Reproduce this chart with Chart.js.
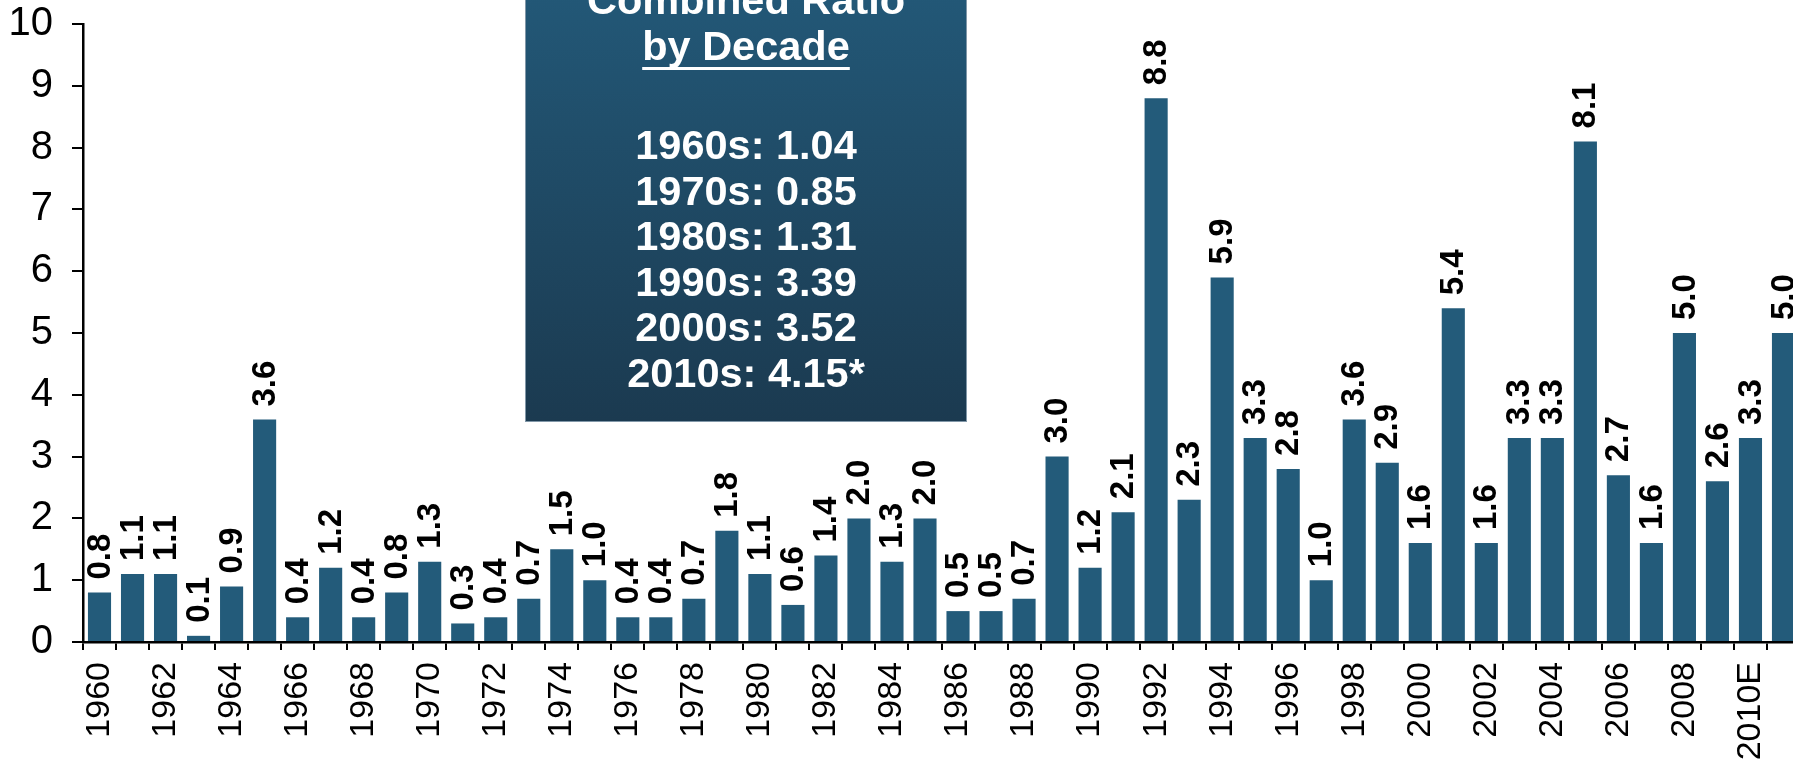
<!DOCTYPE html>
<html><head><meta charset="utf-8">
<script src="https://cdn.jsdelivr.net/npm/chart.js@4/dist/chart.umd.min.js"></script>
<style>
html,body{margin:0;padding:0;background:#fff;overflow:hidden;width:1793px;height:763px;}
#wrap{position:relative;width:1793px;height:763px;overflow:hidden;}
#c{position:absolute;left:0;top:0;}
#box{position:absolute;left:525px;top:-40px;width:442px;height:462px;box-sizing:border-box;background:linear-gradient(#235a7a,#1b3a50);border:1px solid #8197a8;}
#txt{position:absolute;left:525px;top:-23px;width:442px;color:#fff;font-family:'Liberation Sans',Arial,sans-serif;font-weight:bold;font-size:41.5px;text-align:center;}
#txt .h{line-height:46px;height:46px;white-space:nowrap;}
#txt .u{text-decoration:underline;text-decoration-thickness:3px;text-underline-offset:7px;text-decoration-skip-ink:none;}
#txt .sp{height:53px;}
#txt .l{line-height:45.5px;height:45.5px;white-space:nowrap;}
</style></head>
<body>
<div id="wrap">
<canvas id="c" width="1800" height="763" style="width:1800px;height:763px"></canvas>
<div id="box"></div>
<div id="txt"></div>
</div>
<script>
const categories = ['1960','1961','1962','1963','1964','1965','1966','1967','1968','1969',
  '1970','1971','1972','1973','1974','1975','1976','1977','1978','1979',
  '1980','1981','1982','1983','1984','1985','1986','1987','1988','1989',
  '1990','1991','1992','1993','1994','1995','1996','1997','1998','1999',
  '2000','2001','2002','2003','2004','2005','2006','2007','2008','2009',
  '2010E','2011E'];
const values = [0.8,1.1,1.1,0.1,0.9,3.6,0.4,1.2,0.4,0.8,
  1.3,0.3,0.4,0.7,1.5,1.0,0.4,0.4,0.7,1.8,
  1.1,0.6,1.4,2.0,1.3,2.0,0.5,0.5,0.7,3.0,
  1.2,2.1,8.8,2.3,5.9,3.3,2.8,1.0,3.6,2.9,
  1.6,5.4,1.6,3.3,3.3,8.1,2.7,1.6,5.0,2.6,
  3.3,5.0];
const yTicks = [0,1,2,3,4,5,6,7,8,9,10];
const boxTitle = ['Combined Ratio','by Decade'];
const decadeLabels = ['1960s','1970s','1980s','1990s','2000s','2010s'];
const decadeValues = ['1.04','0.85','1.31','3.39','3.52','4.15*'];

// text box
const txt = document.getElementById('txt');
txt.innerHTML = '<div class="h">'+boxTitle[0]+'</div><div class="h"><span class="u">'+boxTitle[1]+'</span></div><div class="sp"></div>' +
  decadeLabels.map((d,i)=>'<div class="l">'+d+': '+decadeValues[i]+'</div>').join('');

const FONT = "'Liberation Sans', Arial, sans-serif";
Chart.defaults.font.family = FONT;
Chart.defaults.color = '#000';

const valueLabels = {
  id: 'valueLabels',
  afterDatasetsDraw(chart) {
    const ctx = chart.ctx;
    const meta = chart.getDatasetMeta(0);
    ctx.save();
    ctx.font = 'bold 33px ' + FONT;
    ctx.fillStyle = '#000';
    ctx.textAlign = 'left';
    ctx.textBaseline = 'middle';
    meta.data.forEach((bar, i) => {
      ctx.save();
      ctx.translate(bar.x + 1, bar.y - 13);
      ctx.rotate(-Math.PI / 2);
      ctx.fillText(values[i].toFixed(1), 0, 0);
      ctx.restore();
    });
    ctx.restore();
  }
};

new Chart(document.getElementById('c'), {
  type: 'bar',
  data: {
    labels: categories,
    datasets: [{ data: values, backgroundColor: '#235b7a', borderWidth: 0, barPercentage: 0.7, categoryPercentage: 1.0 }]
  },
  options: {
    responsive: false,
    devicePixelRatio: 1,
    animation: false,
    layout: { padding: { top: 24, left: 0, right: 0, bottom: 0 } },
    plugins: { legend: { display: false }, tooltip: { enabled: false } },
    scales: {
      x: {
        offset: true,
        grid: { display: true, drawOnChartArea: false, drawTicks: true, tickLength: 8, color: '#000', lineWidth: 2, offset: true },
        border: { display: true, color: '#000', width: 2.5 },
        ticks: {
          autoSkip: false, maxRotation: 90, minRotation: 90, padding: 12,
          font: { size: 34 }, color: '#000',
          callback: function(v, i) { return i % 2 === 0 ? this.getLabelForValue(v) : ''; }
        },
        afterFit(s) { s.height = 121; s.paddingLeft = 0; s.paddingRight = 0; }
      },
      y: {
        min: yTicks[0], max: yTicks[yTicks.length - 1],
        afterBuildTicks(s) { s.ticks = yTicks.map(v => ({ value: v })); },
        grid: { display: true, drawOnChartArea: false, drawTicks: true, tickLength: 11, color: '#000', lineWidth: 2 },
        border: { display: true, color: '#000', width: 2.5 },
        ticks: { font: { size: 40 }, color: '#000', padding: 19 },
        afterFit(s) { s.width = 83; s.paddingTop = 0; s.paddingBottom = 0; }
      }
    }
  },
  plugins: [valueLabels]
});
</script>
</body></html>
